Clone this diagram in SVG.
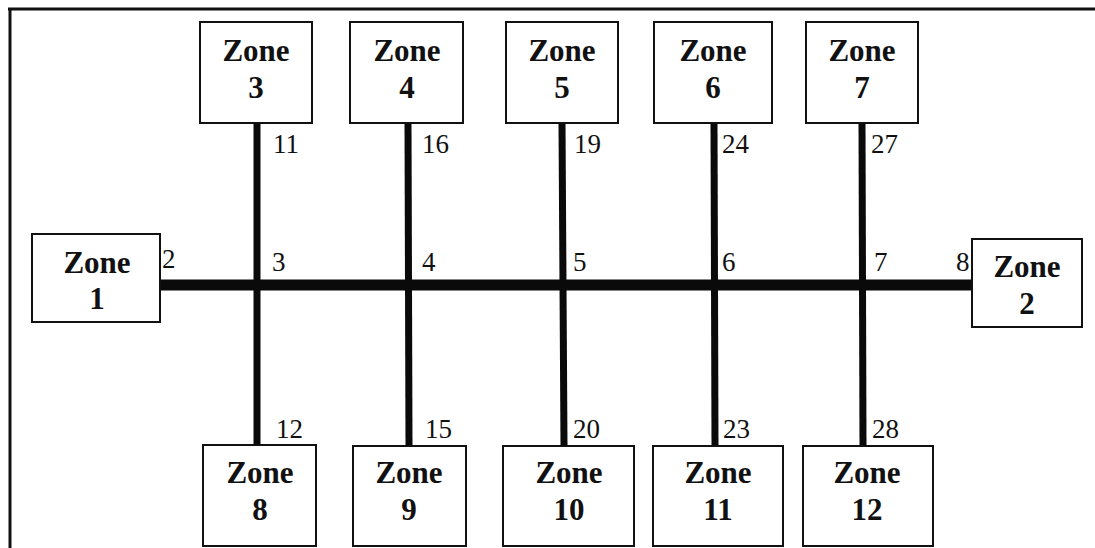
<svg xmlns="http://www.w3.org/2000/svg" width="1095" height="548" viewBox="0 0 1095 548">
<style>
.box{fill:#fff;stroke:#111;stroke-width:2}
.zt{font-family:"Liberation Serif",serif;font-weight:bold;font-size:31px;fill:#111;text-anchor:middle}
.num{font-family:"Liberation Serif",serif;font-size:27px;fill:#111}
.bus{stroke:#0a0a0a;stroke-width:11;fill:none}
.br{stroke:#0a0a0a;stroke-width:7;fill:none}
</style>
<rect width="1095" height="548" fill="#fff"/>
<g id="frame" stroke="#111" fill="none">
<line x1="8" y1="9" x2="1095" y2="9" stroke-width="3"/>
<line x1="10" y1="8" x2="10" y2="548" stroke-width="3"/>
</g>
<g id="connectors">
<line class="bus" x1="160" y1="285" x2="972" y2="285"/>
<line class="br" x1="257" y1="123" x2="257" y2="446"/>
<line class="br" x1="408" y1="123" x2="409" y2="446"/>
<line class="br" x1="562" y1="123" x2="564" y2="446"/>
<line class="br" x1="714" y1="123" x2="715" y2="446"/>
<line class="br" x1="862" y1="123" x2="863" y2="446"/>
</g>
<g id="labels" class="num">
<text x="273" y="153">11</text>
<text x="422" y="153">16</text>
<text x="574" y="153">19</text>
<text x="722" y="153">24</text>
<text x="871" y="153">27</text>
<text x="162" y="268">2</text>
<text x="272" y="271">3</text>
<text x="422" y="271">4</text>
<text x="573" y="271">5</text>
<text x="722" y="271">6</text>
<text x="874" y="271">7</text>
<text x="956" y="271">8</text>
<text x="276" y="438">12</text>
<text x="425" y="438">15</text>
<text x="573" y="438">20</text>
<text x="723" y="438">23</text>
<text x="872" y="438">28</text>
</g>
<g id="zone1"><rect class="box" x="32" y="234" width="128" height="88"/><text class="zt" x="97" y="273">Zone</text><text class="zt" x="97" y="309">1</text></g>
<g id="zone2"><rect class="box" x="972" y="239" width="110" height="88"/><text class="zt" x="1027" y="277">Zone</text><text class="zt" x="1027" y="314">2</text></g>
<g id="zone3"><rect class="box" x="200" y="22" width="112" height="101"/><text class="zt" x="256" y="61">Zone</text><text class="zt" x="256" y="98">3</text></g>
<g id="zone4"><rect class="box" x="350" y="22" width="113" height="101"/><text class="zt" x="407" y="61">Zone</text><text class="zt" x="407" y="98">4</text></g>
<g id="zone5"><rect class="box" x="506" y="22" width="112" height="101"/><text class="zt" x="562" y="61">Zone</text><text class="zt" x="562" y="98">5</text></g>
<g id="zone6"><rect class="box" x="654" y="22" width="118" height="101"/><text class="zt" x="713" y="61">Zone</text><text class="zt" x="713" y="98">6</text></g>
<g id="zone7"><rect class="box" x="806" y="22" width="112" height="101"/><text class="zt" x="862" y="61">Zone</text><text class="zt" x="862" y="98">7</text></g>
<g id="zone8"><rect class="box" x="203" y="445" width="113" height="101"/><text class="zt" x="260" y="483">Zone</text><text class="zt" x="260" y="520">8</text></g>
<g id="zone9"><rect class="box" x="353" y="446" width="113" height="100"/><text class="zt" x="409" y="483">Zone</text><text class="zt" x="409" y="520">9</text></g>
<g id="zone10"><rect class="box" x="503" y="446" width="131" height="100"/><text class="zt" x="569" y="483">Zone</text><text class="zt" x="569" y="520">10</text></g>
<g id="zone11"><rect class="box" x="653" y="446" width="130" height="100"/><text class="zt" x="718" y="483">Zone</text><text class="zt" x="718" y="520">11</text></g>
<g id="zone12"><rect class="box" x="803" y="446" width="130" height="100"/><text class="zt" x="867" y="483">Zone</text><text class="zt" x="867" y="520">12</text></g>
</svg>
